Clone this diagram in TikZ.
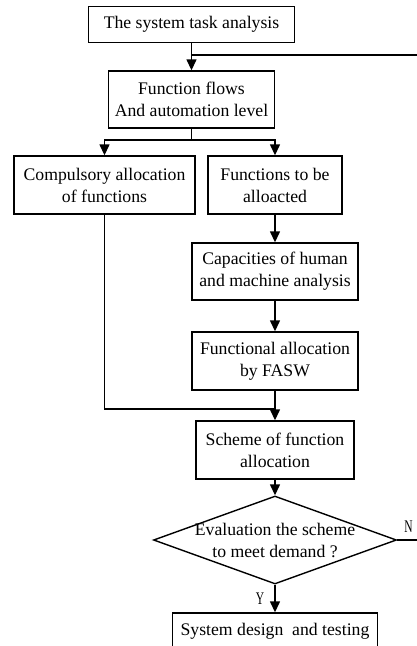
\documentclass[tikz,border=0pt]{standalone}
\usepackage{fontspec}
\setmainfont{Liberation Serif}
\usepackage{graphicx}
\usetikzlibrary{arrows.meta,shapes.geometric}
\begin{document}
\begin{tikzpicture}[x=1pt,y=1pt,
  every node/.style={font=\fontsize{17.7}{22}\selectfont},
  box/.style={draw,line width=1.4pt,rectangle,inner sep=0pt,align=center},
  con/.style={line width=1.4pt},
  arr/.style={con,-{Triangle[width=10pt,length=11pt]}}]
\useasboundingbox (0,0) rectangle (417,-646);
\clip (0,0) rectangle (417,-646);
\node[box,minimum width=206pt,minimum height=36pt] (b1) at (191.5,-24.5) {The system task analysis};
\node[box,minimum width=166pt,minimum height=57pt] (b2) at (191.5,-99.5) {Function flows\\And automation level};
\node[box,minimum width=181pt,minimum height=58pt] (b3) at (104.5,-185) {Compulsory allocation\\of functions};
\node[box,minimum width=134pt,minimum height=58pt] (b4) at (275,-185) {Functions to be\\alloacted};
\node[box,minimum width=166pt,minimum height=57pt] (b5) at (275,-271.5) {Capacities of human\\and machine analysis};
\node[box,minimum width=166pt,minimum height=58pt] (b6) at (275,-361) {Functional allocation\\by FASW};
\node[box,minimum width=158pt,minimum height=58pt] (b7) at (275,-450) {Scheme of function\\allocation};
\node[diamond,draw,line width=1.4pt,inner sep=0pt,minimum width=243pt,minimum height=88pt] (dia) at (275,-540) {};
\node[align=center,inner sep=0pt] (diat) at (dia.center) {Evaluation the scheme\\to meet demand ?};
\node[box,minimum width=205pt,minimum height=36pt] (b8) at (275,-631) {System design \ and testing};
\coordinate (split) at (191.5,-140);
\coordinate (merge) at (275,-409);
\coordinate (fbR) at (422,-540);
\coordinate (fbT) at (422,-55);
\draw[arr] (b1.south) -- (b2.north);
\draw[con] (b2.south) -- (split);
\draw[arr] (split) -| (b3.north);
\draw[arr] (split) -| (b4.north);
\draw[arr] (b4.south) -- (b5.north);
\draw[arr] (b5.south) -- (b6.north);
\draw[con] (b3.south) |- (merge);
\draw[arr] (b6.south) -- (b7.north);
\draw[arr] (b7.south) -- (dia.north);
\draw[arr] (dia.south) -- (b8.north);
\draw[con] (dia.east) -- (fbR) -- (fbT) -- (b1.south |- fbT);
\node (nlab) at (408.5,-526.5) {\scalebox{0.65}[1]{N}};
\node (ylab) at (260,-599) {\scalebox{0.65}[1]{Y}};
\end{tikzpicture}
\end{document}
